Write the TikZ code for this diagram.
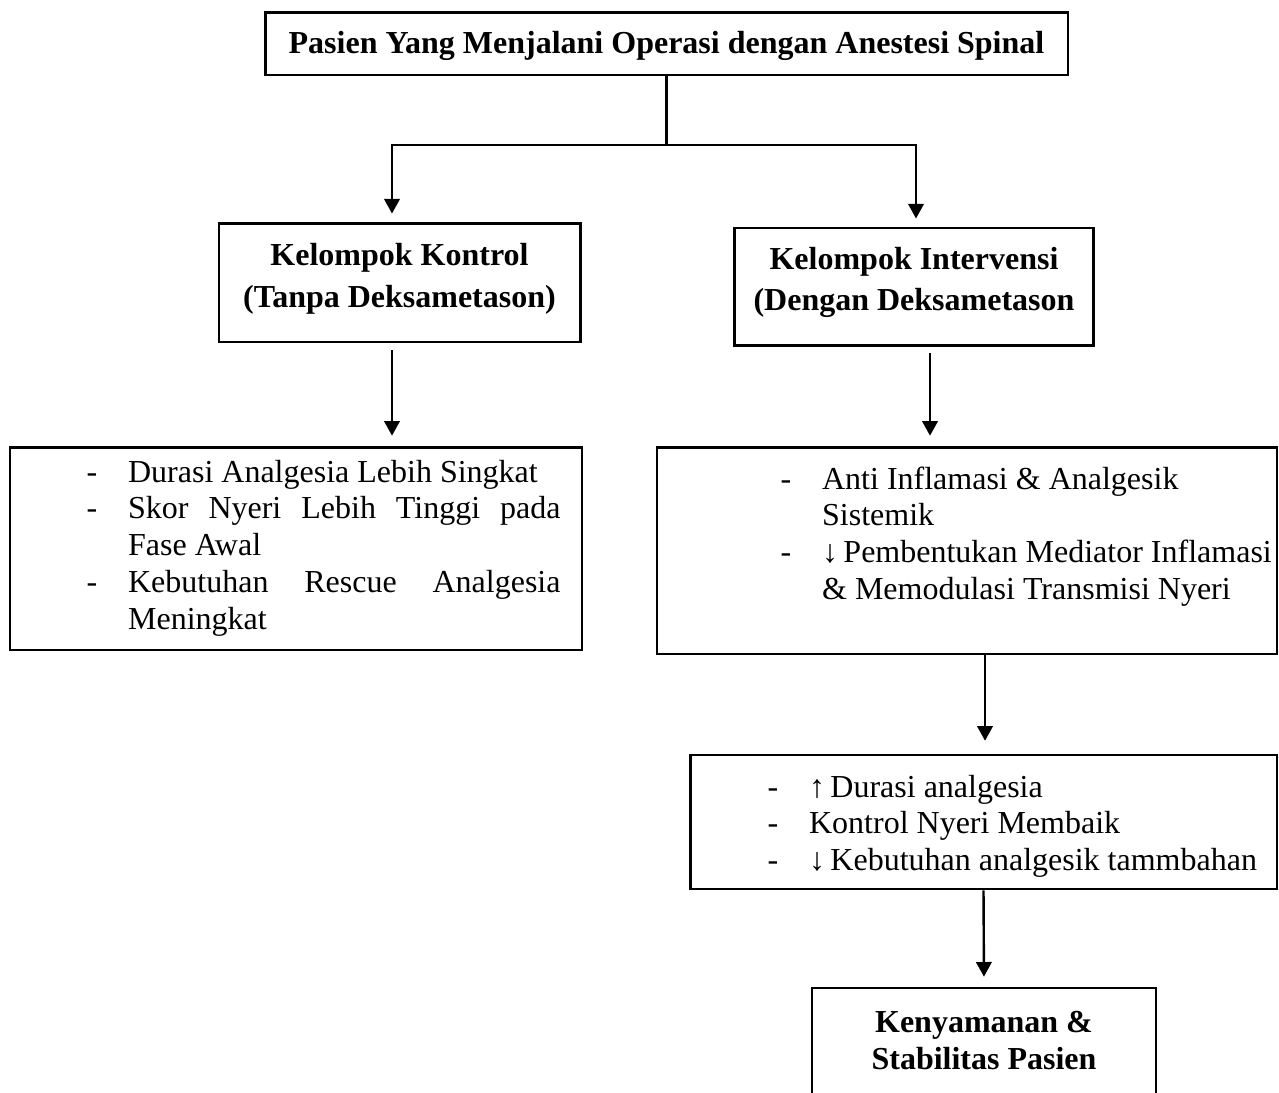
\documentclass[tikz,border=0pt]{standalone}
\usepackage{fontspec}
\setmainfont{Liberation Serif}
\usetikzlibrary{arrows.meta}

\newlength{\dashgap}
\setlength{\dashgap}{15.6pt}
\newcommand{\dashitem}[1]{\noindent\hangindent=\dashgap\hangafter=1\makebox[\dashgap][l]{-}#1\par}
\newcommand{\contline}[1]{\noindent\hspace*{\dashgap}#1\par}
\newcommand{\dn}{↓\hspace{2pt}}
\newcommand{\up}{↑\hspace{2pt}}

\begin{document}
\begin{tikzpicture}[x=0.375pt, y=-0.375pt,
    plain/.style={font=\fontsize{12pt}{13.8pt}\selectfont, inner sep=0pt, align=justify, anchor=base west},
    head/.style={font=\fontsize{12pt}{13.8pt}\selectfont\bfseries, align=center},
    box/.style={draw, line width=1.1pt, inner sep=0pt},
    arr/.style={line width=0.9pt, -{Triangle[length=5.5pt,width=5.8pt]}}]
    \useasboundingbox (0,0) rectangle (1279,1092);
    \clip (0,0) rectangle (1279,1092);

    \node [box, head, minimum width=301.1pt, minimum height=23.6pt, text depth=0.5pt] (pasien) at (666.5,43.5) {Pasien Yang Menjalani Operasi dengan Anestesi Spinal};

    \node [box, head, minimum width=135.4pt, minimum height=44.6pt, text depth=5.3pt] (kontrol) at (399.5,282.5) {Kelompok Kontrol\\[1.8pt](Tanpa Deksametason)};
    \node [box, head, minimum width=134.3pt, minimum height=43.9pt, text depth=5.6pt] (intervensi) at (914,286.5) {Kelompok Intervensi\\[1.8pt](Dengan Deksametason};

    \node [box, minimum width=214.5pt, minimum height=76.1pt] (efekkontrol) at (296,548.5) {};
    \node [plain, text width=177.75pt] (efekkontrol-txt) at (86,482) {%
        \dashitem{Durasi Analgesia Lebih Singkat}%
        \dashitem{Skor Nyeri Lebih Tinggi pada\linebreak Fase Awal}%
        \dashitem{Kebutuhan Rescue Analgesia\linebreak Meningkat}};

    \node [box, minimum width=232.5pt, minimum height=77.6pt] (efekintervensi) at (967,550.5) {};
    \node [plain, text width=230pt] (efekintervensi-txt) at (780,489) {%
        \dashitem{Anti Inflamasi \& Analgesik}%
        \contline{Sistemik}%
        \dashitem{\dn Pembentukan Mediator Inflamasi}%
        \contline{\& Memodulasi Transmisi Nyeri}};

    \node [box, minimum width=220.1pt, minimum height=50.25pt] (hasil) at (983.5,822) {};
    \node [plain, text width=230pt] (hasil-txt) at (767,797) {%
        \dashitem{\up Durasi analgesia}%
        \dashitem{Kontrol Nyeri Membaik}%
        \dashitem{\dn Kebutuhan analgesik tammbahan}};

    \node [box, head, minimum width=129pt, minimum height=42pt, text depth=3pt] (kenyamanan) at (984,1044) {Kenyamanan \&\\Stabilitas Pasien};

    \coordinate (fork) at (666.5,145);
    \coordinate (xl) at (392,0);
    \coordinate (xr) at (916,0);
    \coordinate (xi) at (930,0);
    \coordinate (xh) at (985,0);

    \draw [line width=0.9pt] (pasien.south) -- (pasien.south |- fork);
    \draw [arr, shorten >=3pt] (fork) -| (kontrol.north -| xl);
    \draw [arr, shorten >=3pt] (fork) -| (intervensi.north -| xr);
    \draw [arr, shorten <=2.6pt, shorten >=3.7pt] (kontrol.south -| xl) -- (efekkontrol.north -| xl);
    \draw [arr, shorten <=2.6pt, shorten >=3.7pt] (intervensi.south -| xi) -- (efekintervensi.north -| xi);
    \draw [arr, shorten >=4.8pt] (efekintervensi.south -| xh) -- (hasil.north -| xh);
    \draw [arr, shorten >=3.7pt] (hasil.south) -- (kenyamanan.north);
\end{tikzpicture}
\end{document}
